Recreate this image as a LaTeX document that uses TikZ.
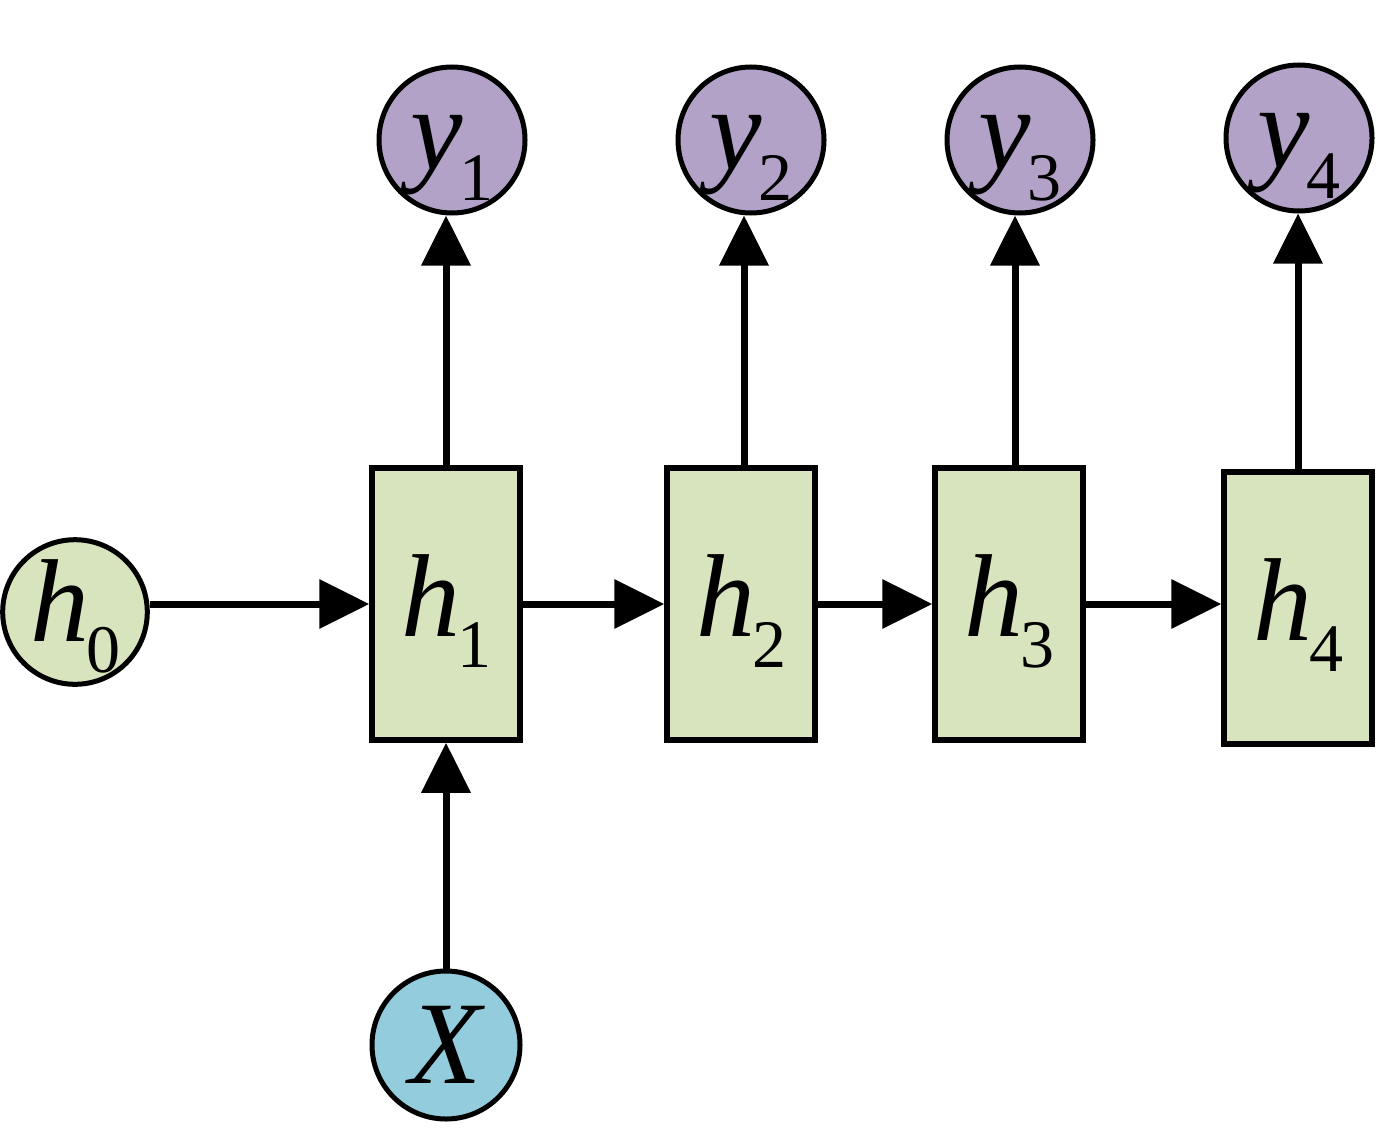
\documentclass[tikz,border=0pt]{standalone}
\usepackage{fontspec}
\setmainfont{Liberation Serif}
\usetikzlibrary{arrows.meta}
\definecolor{hgreen}{HTML}{D7E4BD}
\definecolor{ypurple}{HTML}{B3A2C7}
\definecolor{xblue}{HTML}{93CDDD}
\newcommand\mainsz{\fontsize{118pt}{118pt}\selectfont}
\newcommand\subsz{\fontsize{68pt}{68pt}\selectfont}
\newcommand\lbl[3]{\raisebox{#3}[\height][\depth]{{\mainsz\itshape #1}\kern-3pt\raisebox{-31pt}{\subsz #2}}}
\begin{document}
\begin{tikzpicture}[x=1pt,y=-1pt,
  state/.style={draw=black,line width=5.5pt,fill=hgreen,minimum width=148pt,minimum height=272pt,inner sep=0pt,rectangle},
  outnode/.style={draw=black,line width=5pt,fill=ypurple,circle,minimum size=146pt,inner sep=0pt},
  initnode/.style={draw=black,line width=5pt,fill=hgreen,circle,minimum size=144pt,inner sep=0pt},
  innode/.style={draw=black,line width=5pt,fill=xblue,circle,minimum size=148pt,inner sep=0pt},
  conn/.style={line width=7pt,-{Triangle[length=50pt,width=48pt]}}]
\useasboundingbox (0,0) rectangle (1396,1132);
\node[initnode] (h0) at (75,612) {\lbl{h}{0}{-4pt}};
\node[state] (h1) at (446,604) {\lbl{h}{1}{-7pt}};
\node[state] (h2) at (741,604) {\lbl{h}{2}{-7pt}};
\node[state] (h3) at (1009,604) {\lbl{h}{3}{-7pt}};
\node[state] (h4) at (1298,608) {\lbl{h}{4}{-7pt}};
\node[outnode] (y1) at (452,140) {\lbl{y}{1}{-18pt}};
\node[outnode] (y2) at (751,140) {\lbl{y}{2}{-18pt}};
\node[outnode] (y3) at (1020,140) {\lbl{y}{3}{-18pt}};
\node[outnode] (y4) at (1299,138) {\lbl{y}{4}{-18pt}};
\node[innode] (x) at (446,1045) {{\mainsz\itshape X}};
\draw[conn] (h0.east |- h1.west) -- (h1.west);
\draw[conn] (h1.east) -- (h2.west);
\draw[conn] (h2.east) -- (h3.west);
\draw[conn] (h3.east) -- (h3.east -| h4.west);
\draw[conn] (h1.north) -- (h1.north |- y1.south);
\draw[conn] ([xshift=3pt]h2.north) -- ([xshift=3pt]h2.north |- y2.south);
\draw[conn] ([xshift=6pt]h3.north) -- ([xshift=6pt]h3.north |- y3.south);
\draw[conn] (h4.north) -- (h4.north |- y4.south);
\draw[conn] (x.north) -- (h1.south);
\end{tikzpicture}
\end{document}
